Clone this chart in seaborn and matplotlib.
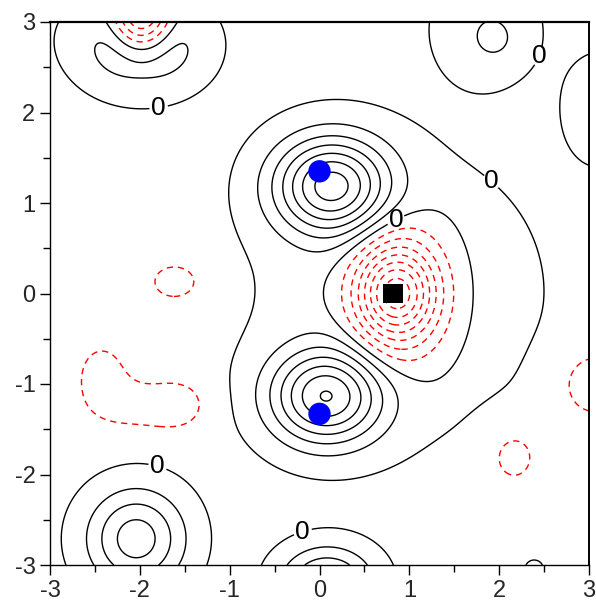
"""
Contour map of a deformation-density style field with atom markers.
Saves out.png (596x609 px).
"""

import numpy as np
import matplotlib
matplotlib.use("Agg")  # no display
import matplotlib.pyplot as plt
import seaborn as sns

BACKGROUND = -0.35
TERM_X = [0.9, 0.13, 0.07, 0.87, 0.84, -1.98, -1.98, -3.1, 1.85, 1.96, 3.15, 3.05, 2.16, -1.6,
          -2.42, -2.0, -1.55, -2.04, 0.085, 2.39]
TERM_Y = [0.0, 1.19, -1.14, 0.0, 0.0, 2.75, 3.05, 3.0, 2.95, 2.8, 2.05, -1.0, -1.8, 0.13,
          -0.9, -1.25, -1.22, -2.71, -3.2, -3.05]
TERM_AMP = [1.05, 6.5, 6.0, -6.7, -1.8, 3.0, -5.8, 0.08, 1.0, 0.65, 1.0, -1.2, -1.0, -1.0,
            -0.9, -0.85, -0.85, 3.9, 3.96, 0.5]
TERM_SX = [1.08, 0.44, 0.43, 0.36, 0.25, 0.45, 0.226, 0.40, 0.42, 0.20, 0.30, 0.30, 0.24, 0.27,
           0.26, 0.35, 0.25, 0.38, 0.35, 0.12]
TERM_SY = [1.08, 0.37, 0.36, 0.465, 0.25, 0.343, 0.28, 0.40, 0.45, 0.20, 0.42, 0.30, 0.27, 0.20,
           0.33, 0.20, 0.22, 0.38, 0.27, 0.12]

# contour levels
NEG_LEVELS = [-9, -8, -7, -6, -5, -4, -3, -2, -1]
POS_LEVELS = [0, 1, 2, 3, 4, 5, 6, 7]

# atoms
BLUE_X = [0.0, 0.0]
BLUE_Y = [1.35, -1.33]
SQUARE_X = [0.82]
SQUARE_Y = [0.0]

# where the "0" labels sit
LABEL_X = [-1.79, 2.49, 1.88, 0.82, -1.8, -0.19]
LABEL_Y = [2.05, 2.6, 1.2, 0.87, -1.9, -2.62]

TICKS = [-3, -2, -1, 0, 1, 2, 3]
MINOR_TICKS = [-2.5, -1.5, -0.5, 0.5, 1.5, 2.5]


def build_field(X, Y):
    Z = np.full_like(X, BACKGROUND)
    for cx, cy, amp, sx, sy in zip(TERM_X, TERM_Y, TERM_AMP, TERM_SX, TERM_SY):
        Z += amp * np.exp(-((X - cx) ** 2 / (2 * sx ** 2) + (Y - cy) ** 2 / (2 * sy ** 2)))
    return Z


def main():
    sns.set_theme(style="ticks")
    plt.rcParams["font.family"] = ["Liberation Sans", "DejaVu Sans"]
    plt.rcParams["axes.unicode_minus"] = False

    fig = plt.figure(figsize=(5.96, 6.09), dpi=100)
    ax = fig.add_axes([50 / 596, 1 - 565 / 609, 539 / 596, 543 / 609])

    grid = np.linspace(-3, 3, 401)
    X, Y = np.meshgrid(grid, grid)
    Z = build_field(X, Y)

    ax.contour(X, Y, Z, levels=NEG_LEVELS, colors="red", linewidths=1.0,
               linestyles=[(0, (4.5, 3.5))])
    pos = ax.contour(X, Y, Z, levels=POS_LEVELS, colors="black", linewidths=1.0,
                     linestyles="solid")
    labels = ax.clabel(pos, levels=[0], fmt="%d", fontsize=19, inline=True,
                       inline_spacing=2, manual=list(zip(LABEL_X, LABEL_Y)))
    for t in labels:
        t.set_rotation(0)

    sns.scatterplot(x=BLUE_X, y=BLUE_Y, color="blue", s=260, marker="o",
                    edgecolor="none", zorder=5, ax=ax)
    sns.scatterplot(x=SQUARE_X, y=SQUARE_Y, color="black", s=200, marker="s",
                    edgecolor="none", zorder=5, ax=ax)

    ax.set_xlim(-3, 3)
    ax.set_ylim(-3, 3)
    ax.set_xticks(TICKS)
    ax.set_yticks(TICKS)
    ax.set_xticks(MINOR_TICKS, minor=True)
    ax.set_yticks(MINOR_TICKS, minor=True)
    ax.tick_params(which="major", direction="out", length=7.5, width=1.0,
                   labelsize=17, color="black", pad=3, top=False, right=False)
    ax.tick_params(which="minor", direction="out", length=5, width=1.0,
                   color="black", top=False, right=False)
    for side in ["left", "bottom", "right", "top"]:
        ax.spines[side].set_color("black")
        ax.spines[side].set_linewidth(1.0)
    ax.spines["top"].set_linewidth(1.6)
    ax.spines["right"].set_linewidth(1.4)

    fig.savefig("out.png", dpi=100)
    plt.close(fig)


if __name__ == "__main__":
    main()
